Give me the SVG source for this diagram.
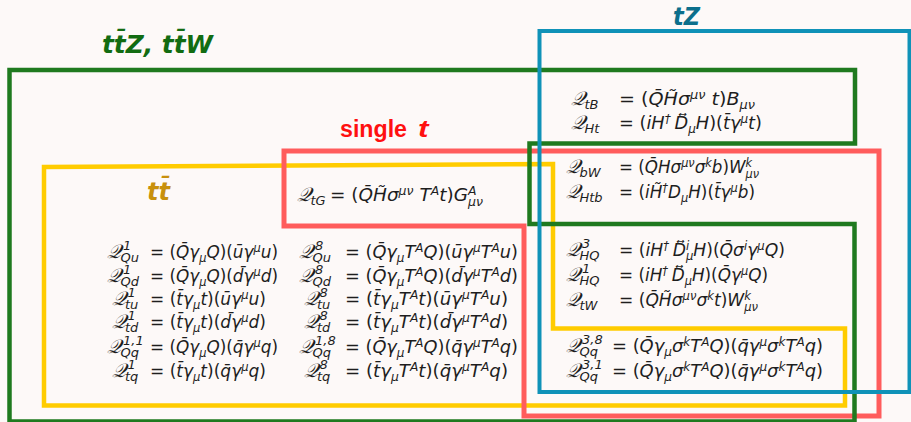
<svg xmlns="http://www.w3.org/2000/svg" width="911" height="422" viewBox="0 0 911 422">
<style>
.box{fill:none;stroke-linejoin:miter}
.f{font-family:"DejaVu Sans","Noto Sans",sans-serif;font-size:17px;font-style:italic;fill:#1e1e1e}
.n{font-style:normal}
.s{font-size:11.5px}
.q{font-size:19.5px}
.sc{font-size:13px}
.t{font-family:"DejaVu Sans","Liberation Sans",sans-serif;font-weight:bold;font-size:25px;font-style:italic}
.st{font-family:"Liberation Sans","DejaVu Sans",sans-serif;font-weight:bold;font-size:23px;fill:#ff1010}
</style>
<rect width="911" height="422" fill="#fdf9f8"/>
<g id="box-ttbar">
<path class="box" d="M44,167 L553,164 L553,328.5 L845,328.5 L845,405.5 L44,405.5 Z" stroke="#ffcc00" stroke-width="4.5"/>
<text class="t" x="147" y="200" fill="#c8900c" font-size="24" textLength="23" lengthAdjust="spacingAndGlyphs">tt&#x304;</text>
</g>
<g id="box-single-t">
<path class="box" d="M284,151 L879,151 L879,416 L524,416 L524,226 L284,226 Z" stroke="#ff5c5c" stroke-width="5"/>
<text class="st" x="340" y="137" textLength="67" lengthAdjust="spacingAndGlyphs">single</text>
<text class="st" x="418" y="137" font-style="italic" textLength="10.5" lengthAdjust="spacingAndGlyphs">t</text>
</g>
<g id="box-ttZ-ttW">
<path class="box" d="M9.5,70 L855,70 L855,143.5 L529.5,143.5 L529.5,224 L854.5,224 L854.5,421.5 L9.5,421.5 Z" stroke="#1f7a1f" stroke-width="4.5"/>
<text class="t" x="102" y="53" fill="#126c12" textLength="111" lengthAdjust="spacingAndGlyphs">tt&#x304;Z, tt&#x304;W</text>
</g>
<g id="box-tZ">
<rect class="box" x="539.5" y="31" width="370" height="361" stroke="#1092b8" stroke-width="4"/>
<text class="t" x="673" y="25" fill="#0c6f8c" textLength="27" lengthAdjust="spacingAndGlyphs">tZ</text>
</g>
<g id="operators">
<g id="op-Q1Qu"><text class="f"><tspan class="q" x="107" y="258">&#x1D4AC;</tspan><tspan class="sc" x="123" y="250">1</tspan><tspan class="sc" x="120.5" y="262">Qu</tspan></text>
<text class="f" x="150" y="258" textLength="128" lengthAdjust="spacingAndGlyphs"><tspan class="n">= (</tspan>Q&#x304;γ<tspan class="s" dy="4">μ</tspan><tspan dy="-4">Q</tspan><tspan class="n">)(</tspan>u&#x304;γ<tspan class="s" dy="-6">μ</tspan><tspan dy="6">u</tspan><tspan class="n">)</tspan></text></g>
<g id="op-Q1Qd"><text class="f"><tspan class="q" x="107" y="282">&#x1D4AC;</tspan><tspan class="sc" x="123" y="274">1</tspan><tspan class="sc" x="120.5" y="286">Qd</tspan></text>
<text class="f" x="150" y="282" textLength="128" lengthAdjust="spacingAndGlyphs"><tspan class="n">= (</tspan>Q&#x304;γ<tspan class="s" dy="4">μ</tspan><tspan dy="-4">Q</tspan><tspan class="n">)(</tspan>d&#x304;γ<tspan class="s" dy="-6">μ</tspan><tspan dy="6">d</tspan><tspan class="n">)</tspan></text></g>
<g id="op-Q1tu"><text class="f"><tspan class="q" x="111.5" y="305">&#x1D4AC;</tspan><tspan class="sc" x="127.5" y="297">1</tspan><tspan class="sc" x="125" y="309">tu</tspan></text>
<text class="f" x="150" y="305" textLength="116" lengthAdjust="spacingAndGlyphs"><tspan class="n">= (</tspan>t&#x304;γ<tspan class="s" dy="4">μ</tspan><tspan dy="-4">t</tspan><tspan class="n">)(</tspan>u&#x304;γ<tspan class="s" dy="-6">μ</tspan><tspan dy="6">u</tspan><tspan class="n">)</tspan></text></g>
<g id="op-Q1td"><text class="f"><tspan class="q" x="111.5" y="328">&#x1D4AC;</tspan><tspan class="sc" x="127.5" y="320">1</tspan><tspan class="sc" x="125" y="332">td</tspan></text>
<text class="f" x="150" y="328" textLength="116" lengthAdjust="spacingAndGlyphs"><tspan class="n">= (</tspan>t&#x304;γ<tspan class="s" dy="4">μ</tspan><tspan dy="-4">t</tspan><tspan class="n">)(</tspan>d&#x304;γ<tspan class="s" dy="-6">μ</tspan><tspan dy="6">d</tspan><tspan class="n">)</tspan></text></g>
<g id="op-Q11Qq"><text class="f"><tspan class="q" x="107" y="353">&#x1D4AC;</tspan><tspan class="sc" x="123" y="345">1,1</tspan><tspan class="sc" x="120.5" y="357">Qq</tspan></text>
<text class="f" x="150" y="353" textLength="128" lengthAdjust="spacingAndGlyphs"><tspan class="n">= (</tspan>Q&#x304;γ<tspan class="s" dy="4">μ</tspan><tspan dy="-4">Q</tspan><tspan class="n">)(</tspan>q&#x304;γ<tspan class="s" dy="-6">μ</tspan><tspan dy="6">q</tspan><tspan class="n">)</tspan></text></g>
<g id="op-Q1tq"><text class="f"><tspan class="q" x="111.5" y="377">&#x1D4AC;</tspan><tspan class="sc" x="127.5" y="369">1</tspan><tspan class="sc" x="125" y="381">tq</tspan></text>
<text class="f" x="150" y="377" textLength="116" lengthAdjust="spacingAndGlyphs"><tspan class="n">= (</tspan>t&#x304;γ<tspan class="s" dy="4">μ</tspan><tspan dy="-4">t</tspan><tspan class="n">)(</tspan>q&#x304;γ<tspan class="s" dy="-6">μ</tspan><tspan dy="6">q</tspan><tspan class="n">)</tspan></text></g>

<g id="op-Q8Qu"><text class="f"><tspan class="q" x="299" y="258">&#x1D4AC;</tspan><tspan class="sc" x="315" y="250">8</tspan><tspan class="sc" x="312.5" y="262">Qu</tspan></text>
<text class="f" x="345" y="258" textLength="173" lengthAdjust="spacingAndGlyphs"><tspan class="n">= (</tspan>Q&#x304;γ<tspan class="s" dy="4">μ</tspan><tspan dy="-4">T</tspan><tspan class="s" dy="-6">A</tspan><tspan dy="6">Q</tspan><tspan class="n">)(</tspan>u&#x304;γ<tspan class="s" dy="-6">μ</tspan><tspan dy="6">T</tspan><tspan class="s" dy="-6">A</tspan><tspan dy="6">u</tspan><tspan class="n">)</tspan></text></g>
<g id="op-Q8Qd"><text class="f"><tspan class="q" x="299" y="282">&#x1D4AC;</tspan><tspan class="sc" x="315" y="274">8</tspan><tspan class="sc" x="312.5" y="286">Qd</tspan></text>
<text class="f" x="345" y="282" textLength="173" lengthAdjust="spacingAndGlyphs"><tspan class="n">= (</tspan>Q&#x304;γ<tspan class="s" dy="4">μ</tspan><tspan dy="-4">T</tspan><tspan class="s" dy="-6">A</tspan><tspan dy="6">Q</tspan><tspan class="n">)(</tspan>d&#x304;γ<tspan class="s" dy="-6">μ</tspan><tspan dy="6">T</tspan><tspan class="s" dy="-6">A</tspan><tspan dy="6">d</tspan><tspan class="n">)</tspan></text></g>
<g id="op-Q8tu"><text class="f"><tspan class="q" x="303.5" y="305">&#x1D4AC;</tspan><tspan class="sc" x="319.5" y="297">8</tspan><tspan class="sc" x="317" y="309">tu</tspan></text>
<text class="f" x="345" y="305" textLength="163" lengthAdjust="spacingAndGlyphs"><tspan class="n">= (</tspan>t&#x304;γ<tspan class="s" dy="4">μ</tspan><tspan dy="-4">T</tspan><tspan class="s" dy="-6">A</tspan><tspan dy="6">t</tspan><tspan class="n">)(</tspan>u&#x304;γ<tspan class="s" dy="-6">μ</tspan><tspan dy="6">T</tspan><tspan class="s" dy="-6">A</tspan><tspan dy="6">u</tspan><tspan class="n">)</tspan></text></g>
<g id="op-Q8td"><text class="f"><tspan class="q" x="303.5" y="328">&#x1D4AC;</tspan><tspan class="sc" x="319.5" y="320">8</tspan><tspan class="sc" x="317" y="332">td</tspan></text>
<text class="f" x="345" y="328" textLength="163" lengthAdjust="spacingAndGlyphs"><tspan class="n">= (</tspan>t&#x304;γ<tspan class="s" dy="4">μ</tspan><tspan dy="-4">T</tspan><tspan class="s" dy="-6">A</tspan><tspan dy="6">t</tspan><tspan class="n">)(</tspan>d&#x304;γ<tspan class="s" dy="-6">μ</tspan><tspan dy="6">T</tspan><tspan class="s" dy="-6">A</tspan><tspan dy="6">d</tspan><tspan class="n">)</tspan></text></g>
<g id="op-Q18Qq"><text class="f"><tspan class="q" x="299" y="353">&#x1D4AC;</tspan><tspan class="sc" x="315" y="345">1,8</tspan><tspan class="sc" x="312.5" y="357">Qq</tspan></text>
<text class="f" x="345" y="353" textLength="173" lengthAdjust="spacingAndGlyphs"><tspan class="n">= (</tspan>Q&#x304;γ<tspan class="s" dy="4">μ</tspan><tspan dy="-4">T</tspan><tspan class="s" dy="-6">A</tspan><tspan dy="6">Q</tspan><tspan class="n">)(</tspan>q&#x304;γ<tspan class="s" dy="-6">μ</tspan><tspan dy="6">T</tspan><tspan class="s" dy="-6">A</tspan><tspan dy="6">q</tspan><tspan class="n">)</tspan></text></g>
<g id="op-Q8tq"><text class="f"><tspan class="q" x="303.5" y="377">&#x1D4AC;</tspan><tspan class="sc" x="319.5" y="369">8</tspan><tspan class="sc" x="317" y="381">tq</tspan></text>
<text class="f" x="345" y="377" textLength="163" lengthAdjust="spacingAndGlyphs"><tspan class="n">= (</tspan>t&#x304;γ<tspan class="s" dy="4">μ</tspan><tspan dy="-4">T</tspan><tspan class="s" dy="-6">A</tspan><tspan dy="6">t</tspan><tspan class="n">)(</tspan>q&#x304;γ<tspan class="s" dy="-6">μ</tspan><tspan dy="6">T</tspan><tspan class="s" dy="-6">A</tspan><tspan dy="6">q</tspan><tspan class="n">)</tspan></text></g>

<g id="op-QtG"><text class="f"><tspan class="q" x="297" y="201">&#x1D4AC;</tspan><tspan class="sc" x="310.5" y="205">tG</tspan></text>
<text class="f" x="330" y="201" textLength="153" lengthAdjust="spacingAndGlyphs"><tspan class="n">= (</tspan>Q&#x304;H&#x303;σ<tspan class="s" dy="-6">μν</tspan><tspan dy="6"> T</tspan><tspan class="s" dy="-6">A</tspan><tspan dy="6">t</tspan><tspan class="n">)</tspan>G<tspan class="s" dy="-6">A</tspan><tspan class="s" dx="-7.8" dy="11">μν</tspan></text></g>

<g id="op-QtB"><text class="f"><tspan class="q" x="571" y="105">&#x1D4AC;</tspan><tspan class="sc" x="584.5" y="109">tB</tspan></text>
<text class="f" x="619" y="105" textLength="136" lengthAdjust="spacingAndGlyphs"><tspan class="n">= (</tspan>Q&#x304;H&#x303;σ<tspan class="s" dy="-6">μν</tspan><tspan dy="6"> t</tspan><tspan class="n">)</tspan>B<tspan class="s" dy="4">μν</tspan></text></g>
<g id="op-QHt"><text class="f"><tspan class="q" x="571" y="129">&#x1D4AC;</tspan><tspan class="sc" x="584.5" y="133">Ht</tspan></text>
<text class="f" x="619" y="129" textLength="143" lengthAdjust="spacingAndGlyphs"><tspan class="n">= (</tspan>iH<tspan class="s" dy="-6">† </tspan><tspan dy="6">D&#x20E1;</tspan><tspan class="s" dy="4">μ</tspan><tspan dy="-4">H</tspan><tspan class="n">)(</tspan>t&#x304;γ<tspan class="s" dy="-6">μ</tspan><tspan dy="6">t</tspan><tspan class="n">)</tspan></text></g>

<g id="op-QbW"><text class="f"><tspan class="q" x="566" y="173">&#x1D4AC;</tspan><tspan class="sc" x="579.5" y="177">bW</tspan></text>
<text class="f" x="619" y="173" textLength="140" lengthAdjust="spacingAndGlyphs"><tspan class="n">= (</tspan>Q&#x304;Hσ<tspan class="s" dy="-6">μν</tspan><tspan dy="6">σ</tspan><tspan class="s" dy="-6">k</tspan><tspan dy="6">b</tspan><tspan class="n">)</tspan>W<tspan class="s" dy="-6">k</tspan><tspan class="s" dx="-6.7" dy="11">μν</tspan></text></g>
<g id="op-QHtb"><text class="f"><tspan class="q" x="566" y="198">&#x1D4AC;</tspan><tspan class="sc" x="579.5" y="202">Htb</tspan></text>
<text class="f" x="619" y="198" textLength="136" lengthAdjust="spacingAndGlyphs"><tspan class="n">= (</tspan>iH&#x303;<tspan class="s" dy="-6">†</tspan><tspan dy="6">D</tspan><tspan class="s" dy="4">μ</tspan><tspan dy="-4">H</tspan><tspan class="n">)(</tspan>t&#x304;γ<tspan class="s" dy="-6">μ</tspan><tspan dy="6">b</tspan><tspan class="n">)</tspan></text></g>

<g id="op-Q3HQ"><text class="f"><tspan class="q" x="566" y="256">&#x1D4AC;</tspan><tspan class="sc" x="582" y="248">3</tspan><tspan class="sc" x="579.5" y="260">HQ</tspan></text>
<text class="f" x="619" y="256" textLength="166" lengthAdjust="spacingAndGlyphs"><tspan class="n">= (</tspan>iH<tspan class="s" dy="-6">† </tspan><tspan dy="6">D&#x20E1;</tspan><tspan class="s" dy="-6">i</tspan><tspan class="s" dx="-3.2" dy="10">μ</tspan><tspan dy="-4">H</tspan><tspan class="n">)(</tspan>Q&#x304;σ<tspan class="s" dy="-6">i</tspan><tspan dy="6">γ</tspan><tspan class="s" dy="-6">μ</tspan><tspan dy="6">Q</tspan><tspan class="n">)</tspan></text></g>
<g id="op-Q1HQ"><text class="f"><tspan class="q" x="566" y="281">&#x1D4AC;</tspan><tspan class="sc" x="582" y="273">1</tspan><tspan class="sc" x="579.5" y="285">HQ</tspan></text>
<text class="f" x="619" y="281" textLength="149" lengthAdjust="spacingAndGlyphs"><tspan class="n">= (</tspan>iH<tspan class="s" dy="-6">† </tspan><tspan dy="6">D&#x20E1;</tspan><tspan class="s" dy="4">μ</tspan><tspan dy="-4">H</tspan><tspan class="n">)(</tspan>Q&#x304;γ<tspan class="s" dy="-6">μ</tspan><tspan dy="6">Q</tspan><tspan class="n">)</tspan></text></g>
<g id="op-QtW"><text class="f"><tspan class="q" x="566" y="306">&#x1D4AC;</tspan><tspan class="sc" x="579.5" y="310">tW</tspan></text>
<text class="f" x="619" y="306" textLength="139" lengthAdjust="spacingAndGlyphs"><tspan class="n">= (</tspan>Q&#x304;H&#x303;σ<tspan class="s" dy="-6">μν</tspan><tspan dy="6">σ</tspan><tspan class="s" dy="-6">k</tspan><tspan dy="6">t</tspan><tspan class="n">)</tspan>W<tspan class="s" dy="-6">k</tspan><tspan class="s" dx="-6.7" dy="11">μν</tspan></text></g>

<g id="op-Q38Qq"><text class="f"><tspan class="q" x="566" y="352">&#x1D4AC;</tspan><tspan class="sc" x="582" y="344">3,8</tspan><tspan class="sc" x="579.5" y="356">Qq</tspan></text>
<text class="f" x="612" y="352" textLength="211" lengthAdjust="spacingAndGlyphs"><tspan class="n">= (</tspan>Q&#x304;γ<tspan class="s" dy="4">μ</tspan><tspan dy="-4">σ</tspan><tspan class="s" dy="-6">k</tspan><tspan dy="6">T</tspan><tspan class="s" dy="-6">A</tspan><tspan dy="6">Q</tspan><tspan class="n">)(</tspan>q&#x304;γ<tspan class="s" dy="-6">μ</tspan><tspan dy="6">σ</tspan><tspan class="s" dy="-6">k</tspan><tspan dy="6">T</tspan><tspan class="s" dy="-6">A</tspan><tspan dy="6">q</tspan><tspan class="n">)</tspan></text></g>
<g id="op-Q31Qq"><text class="f"><tspan class="q" x="566" y="377">&#x1D4AC;</tspan><tspan class="sc" x="582" y="369">3,1</tspan><tspan class="sc" x="579.5" y="381">Qq</tspan></text>
<text class="f" x="612" y="377" textLength="211" lengthAdjust="spacingAndGlyphs"><tspan class="n">= (</tspan>Q&#x304;γ<tspan class="s" dy="4">μ</tspan><tspan dy="-4">σ</tspan><tspan class="s" dy="-6">k</tspan><tspan dy="6">T</tspan><tspan class="s" dy="-6">A</tspan><tspan dy="6">Q</tspan><tspan class="n">)(</tspan>q&#x304;γ<tspan class="s" dy="-6">μ</tspan><tspan dy="6">σ</tspan><tspan class="s" dy="-6">k</tspan><tspan dy="6">T</tspan><tspan class="s" dy="-6">A</tspan><tspan dy="6">q</tspan><tspan class="n">)</tspan></text></g>
</g>
</svg>
